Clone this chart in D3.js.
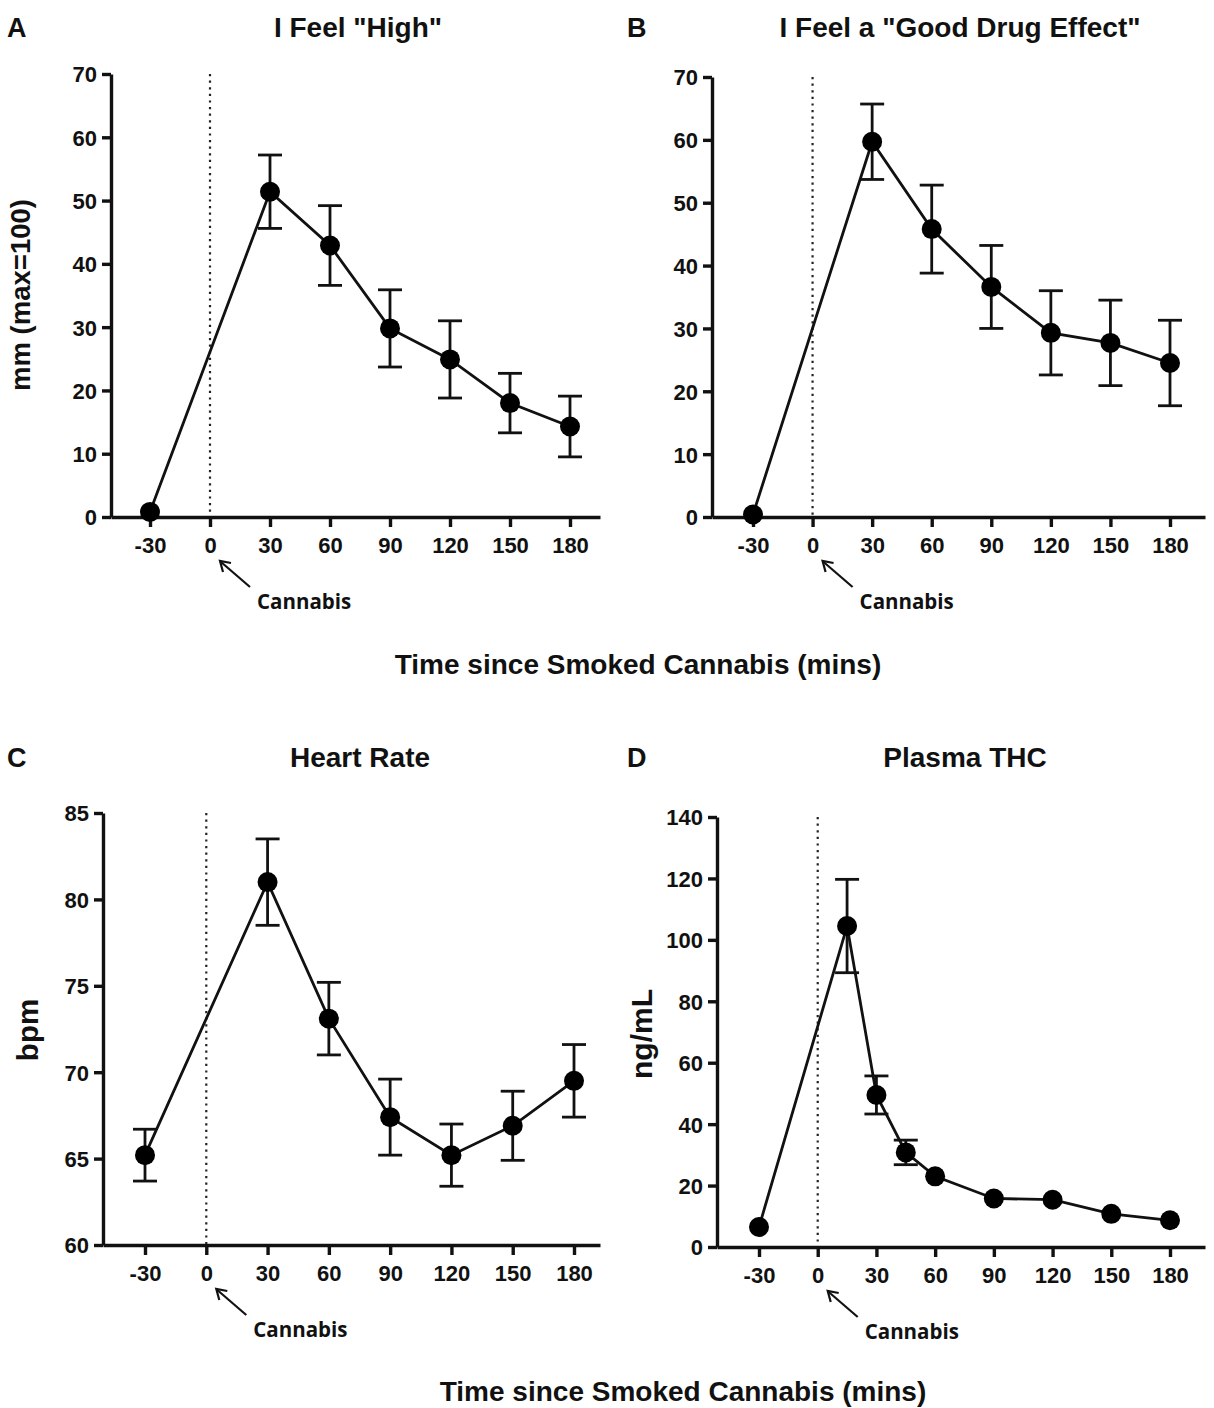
<!DOCTYPE html>
<html><head><meta charset="utf-8">
<script src="https://cdn.jsdelivr.net/npm/d3@7"></script>
<style>
html,body{margin:0;padding:0;background:#fff;}
</style></head>
<body>
<svg id="c" width="1214" height="1408"></svg>
<script>
// ---- data ----
const xTicks = [-30, 0, 30, 60, 90, 120, 150, 180];
const timesABC = [-30, 30, 60, 90, 120, 150, 180];
const highMean = [0.8, 51.4, 42.9, 29.8, 24.9, 18.0, 14.3];
const highErr  = [0,   5.8,  6.3,  6.1,  6.1,  4.7,  4.8];
const goodMean = [0.4, 59.7, 45.8, 36.6, 29.3, 27.7, 24.5];
const goodErr  = [0,   6.0,  7.0,  6.6,  6.7,  6.8,  6.8];
const hrMean   = [65.2, 81.0, 73.1, 67.4, 65.2, 66.9, 69.5];
const hrErr    = [1.5,  2.5,  2.1,  2.2,  1.8,  2.0,  2.1];
const timesD   = [-30, 15, 30, 45, 60, 90, 120, 150, 180];
const thcMean  = [6.5, 104.5, 49.5, 30.8, 23.0, 15.8, 15.4, 10.8, 8.7];
const thcErr   = [0,   15.2,  6.2,  4.0,  0,    0,    0,    0,    0];
const yTicksAB = [0, 10, 20, 30, 40, 50, 60, 70];
const yTicksC  = [60, 65, 70, 75, 80, 85];
const yTicksD  = [0, 20, 40, 60, 80, 100, 120, 140];
const xLabel = "Time since Smoked Cannabis (mins)";

const FONT = "'Liberation Sans', Arimo, Arial, Helvetica, sans-serif";
const panels = [
  {letter:"A", title:'I Feel "High"', ylab:"mm (max=100)", ys:27.5, t:timesABC, m:highMean, e:highErr, yt:yTicksAB, yd:[0,70],
   ax:111, right:600, xa:150, xb:570, yTop:74, yBot:517, lx:7, ly:37, tx:358, ty:37, ylx:30, yly:295},
  {letter:"B", title:'I Feel a "Good Drug Effect"', ylab:null, t:timesABC, m:goodMean, e:goodErr, yt:yTicksAB, yd:[0,70],
   ax:712, right:1205, xa:753, xb:1170, yTop:77, yBot:517, lx:627, ly:37, tx:960, ty:37},
  {letter:"C", title:"Heart Rate", ylab:"bpm", ys:29.5, t:timesABC, m:hrMean, e:hrErr, yt:yTicksC, yd:[60,85],
   ax:103, right:600, xa:145, xb:574, yTop:813, yBot:1245, lx:7, ly:767, tx:360, ty:767, ylx:38, yly:1030},
  {letter:"D", title:"Plasma THC", ylab:"ng/mL", ys:30, t:timesD, m:thcMean, e:thcErr, yt:yTicksD, yd:[0,140],
   ax:717, right:1205, xa:759, xb:1170, yTop:817, yBot:1247, lx:627, ly:767, tx:965, ty:767, ylx:652, yly:1034}
];

const fmt = d => String(d);
const svg = d3.select("#c");
const txt = (sel, size) => sel.attr("font-family",FONT).attr("font-weight","bold").attr("font-size",size).attr("fill","#111");

panels.forEach(p => {
  const g = svg.append("g");
  const base = d3.scaleLinear().domain([-30,180]).range([p.xa,p.xb]);
  const x = base.copy().domain([base.invert(p.ax), base.invert(p.right)]).range([p.ax,p.right]);
  const y = d3.scaleLinear().domain(p.yd).range([p.yBot,p.yTop]);

  txt(g.append("text").attr("x",p.lx).attr("y",p.ly), 27).text(p.letter);
  txt(g.append("text").attr("x",p.tx).attr("y",p.ty).attr("text-anchor","middle"), 28).text(p.title);
  if (p.ylab) {
    txt(g.append("text").attr("transform",`translate(${p.ylx},${p.yly}) rotate(-90)`)
      .attr("text-anchor","middle"), p.ys).text(p.ylab);
  }

  g.append("line").attr("x1",x(0)).attr("x2",x(0)).attr("y1",y(p.yd[1])).attr("y2",y(p.yd[0]))
    .attr("stroke","#222").attr("stroke-width",2.2).attr("stroke-dasharray","2.2 4.4");

  const yA = g.append("g").attr("transform",`translate(${p.ax},0)`)
    .call(d3.axisLeft(y).tickValues(p.yt).tickSize(9).tickSizeOuter(0).tickPadding(5).tickFormat(fmt));
  const xA = g.append("g").attr("transform",`translate(0,${p.yBot})`)
    .call(d3.axisBottom(x).tickValues(xTicks).tickSize(10).tickSizeOuter(0).tickPadding(10).tickFormat(fmt));
  [yA,xA].forEach(a => {
    a.attr("font-family",FONT).attr("font-size",22).attr("font-weight","bold");
    a.select(".domain").attr("stroke","#111").attr("stroke-width",3.4);
    a.selectAll(".tick line").attr("stroke","#111").attr("stroke-width",3.4);
    a.selectAll(".tick text").attr("fill","#111");
  });
  yA.selectAll(".tick text").attr("dy","0.36em");

  const pts = p.t.map((t,i) => ({t, m:p.m[i], e:p.e[i]}));

  g.append("path").datum(pts)
    .attr("d", d3.line().x(d=>x(d.t)).y(d=>y(d.m)))
    .attr("fill","none").attr("stroke","#111").attr("stroke-width",2.8);

  const eb = g.selectAll(".eb").data(pts.filter(d=>d.e>0)).enter().append("g");
  eb.append("line").attr("x1",d=>x(d.t)).attr("x2",d=>x(d.t))
    .attr("y1",d=>y(d.m-d.e)).attr("y2",d=>y(d.m+d.e)).attr("stroke","#111").attr("stroke-width",2.8);
  [-1,1].forEach(s => {
    eb.append("line").attr("x1",d=>x(d.t)-12).attr("x2",d=>x(d.t)+12)
      .attr("y1",d=>y(d.m+s*d.e)).attr("y2",d=>y(d.m+s*d.e)).attr("stroke","#111").attr("stroke-width",2.8);
  });

  g.selectAll(".pt").data(pts).enter().append("circle")
    .attr("cx",d=>x(d.t)).attr("cy",d=>y(d.m)).attr("r",10).attr("fill","#000");

  const x0 = x(0), yb = p.yBot;
  g.append("line").attr("x1",x0+40).attr("y1",yb+70).attr("x2",x0+11).attr("y2",yb+45)
    .attr("stroke","#111").attr("stroke-width",2.2);
  g.append("path").attr("d",`M${x0+13},${yb+55} L${x0+10},${yb+44} L${x0+21},${yb+46}`)
    .attr("fill","none").attr("stroke","#111").attr("stroke-width",2.2);
  g.append("text").attr("x",x0+47).attr("y",yb+92).attr("font-size",20.5).attr("fill","#111")
    .attr("font-family","'Open Sans', Lato, sans-serif").attr("font-weight","bold").text("Cannabis");
});

txt(svg.append("text").attr("x",638).attr("y",674).attr("text-anchor","middle"), 28).text(xLabel);
txt(svg.append("text").attr("x",683).attr("y",1401).attr("text-anchor","middle"), 28).text(xLabel);
</script>
</body></html>
